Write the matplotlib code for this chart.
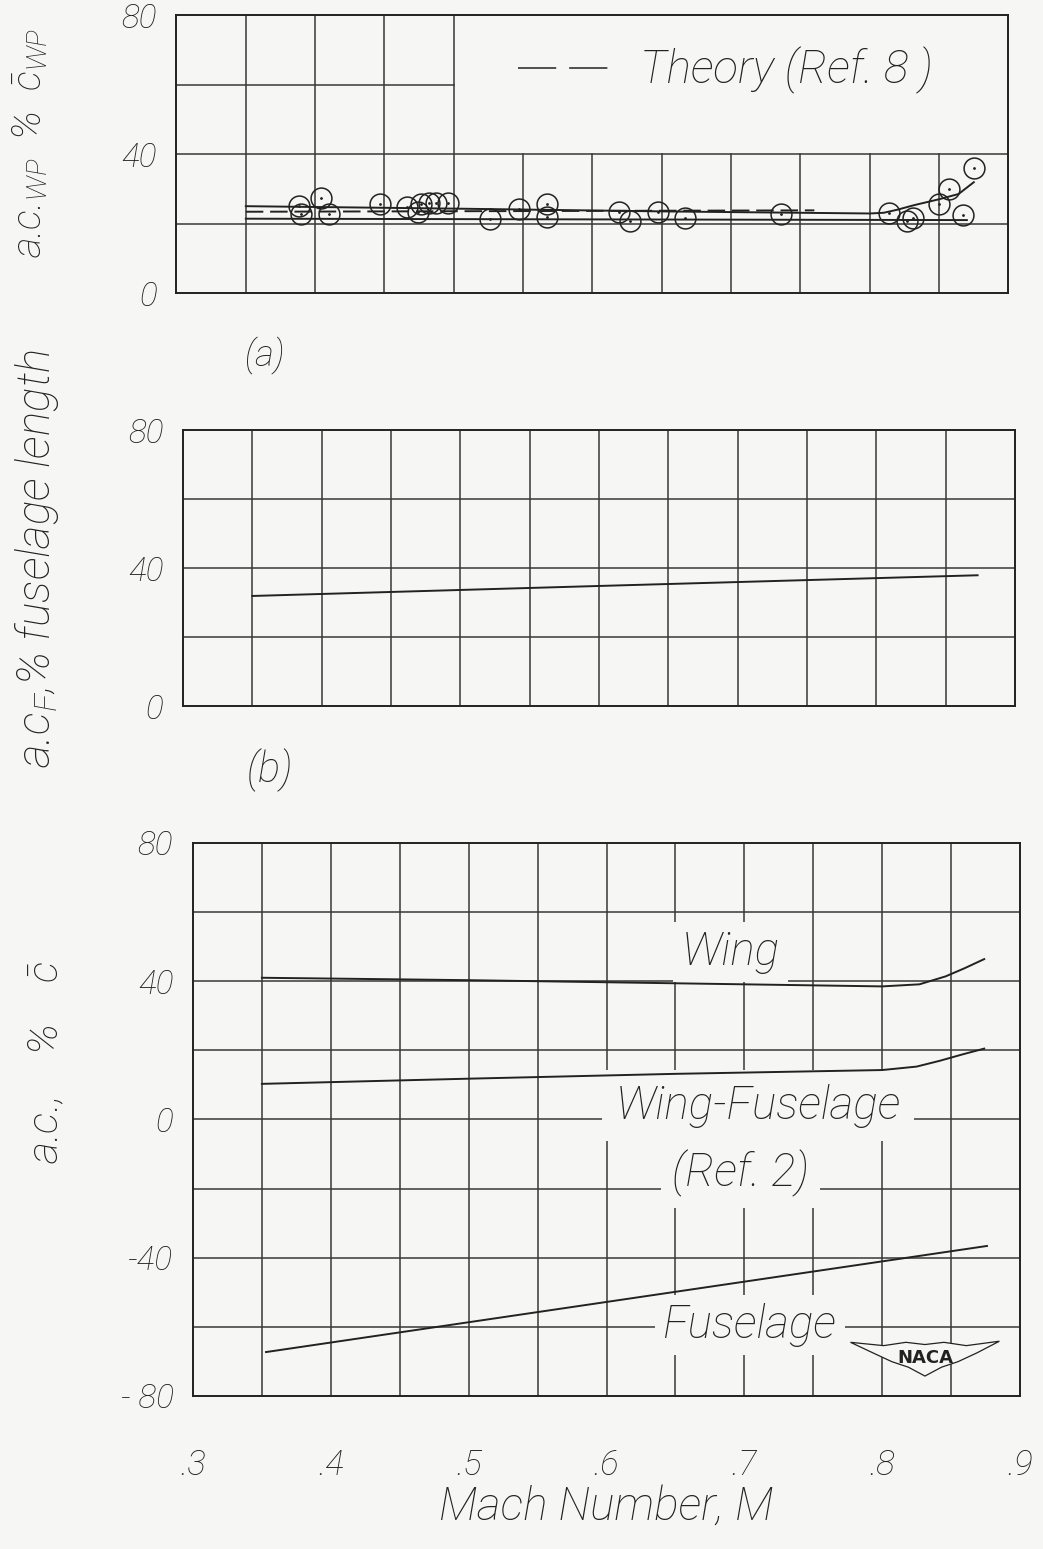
import numpy as np
import matplotlib
matplotlib.use("Agg")
import matplotlib.pyplot as plt
from matplotlib.lines import Line2D
from matplotlib.patches import Polygon

# ---- data ----
# (a) wing-panel aerodynamic centre, % mean chord of wing panel
mach_wp = [0.388, 0.390, 0.404, 0.410, 0.447, 0.466, 0.474, 0.476, 0.482, 0.487,
           0.496, 0.526, 0.547, 0.567, 0.567, 0.619, 0.627, 0.647, 0.667, 0.736,
           0.814, 0.827, 0.831, 0.850, 0.857, 0.867, 0.875]
ac_wp = [25.0, 22.8, 27.3, 22.7, 25.5, 24.7, 23.2, 25.6, 25.8, 26.0,
         25.8, 21.2, 24.3, 25.7, 21.8, 23.3, 20.6, 23.2, 21.7, 22.8,
         23.1, 20.8, 21.5, 25.6, 29.8, 22.6, 36.0]
fair_up_m = [0.35, 0.50, 0.65, 0.80, 0.81, 0.82, 0.832, 0.85, 0.864, 0.875]
fair_up = [25.0, 24.3, 23.5, 22.9, 23.1, 24.0, 25.3, 27.0, 28.5, 31.9]
fair_lo_m = [0.35, 0.60, 0.87]
fair_lo = [21.4, 21.2, 21.0]
theory_m = [0.35, 0.76]
theory = [23.4, 23.8]

# (b) fuselage a.c., % fuselage length
fus_len_m = [0.35, 0.60, 0.873]
fus_len = [31.9, 34.8, 37.9]

# (c) a.c., % mean chord
wing_m = [0.35, 0.50, 0.65, 0.80, 0.827, 0.846, 0.86, 0.874]
wing = [41.0, 40.3, 39.4, 38.5, 39.1, 41.4, 43.8, 46.4]
wf_m = [0.35, 0.50, 0.65, 0.80, 0.825, 0.842, 0.858, 0.874]
wf = [10.3, 11.8, 13.2, 14.3, 15.3, 17.0, 18.8, 20.5]
fus_m = [0.353, 0.60, 0.876]
fus = [-67.3, -52.8, -36.6]

mach_ticks = [0.3, 0.4, 0.5, 0.6, 0.7, 0.8, 0.9]
mach_labels = [".3", ".4", ".5", ".6", ".7", ".8", ".9"]

# ---- style ----
BG = "#f6f6f4"
INK = "#222222"
GRID = "#383838"
plt.rcParams["font.family"] = ["Roboto", "DejaVu Sans"]
plt.rcParams["font.style"] = "italic"
plt.rcParams["font.weight"] = "light"
plt.rcParams["axes.labelweight"] = "light"
plt.rcParams["mathtext.fontset"] = "custom"
plt.rcParams["mathtext.it"] = "Roboto:italic:light"
plt.rcParams["mathtext.rm"] = "Roboto:italic:light"
plt.rcParams["mathtext.default"] = "it"
plt.rcParams["text.color"] = INK
plt.rcParams["axes.labelcolor"] = INK

fig = plt.figure(figsize=(10.43, 15.49), dpi=100, facecolor=BG)
ax_a = fig.add_axes([0.1692, 0.8108, 0.7977, 0.1795])
ax_b = fig.add_axes([0.1755, 0.5442, 0.7977, 0.1782])
ax_c = fig.add_axes([0.1850, 0.0988, 0.7930, 0.3570])

glw = 1.1
for ax in (ax_a, ax_b, ax_c):
    ax.set_facecolor(BG)
    ax.set_xlim(0.3, 0.9)
    for s in ax.spines.values():
        s.set_color(INK)
        s.set_linewidth(1.4)
    ax.tick_params(length=0, labelsize=24, colors=INK, pad=14)
    ax.set_xticks(mach_ticks)
    ax.tick_params(axis="x", labelbottom=False)

cols = np.arange(0.35, 0.9, 0.05)

# panel (a) grid: upper-right block left blank for the key
ax_a.set_ylim(0, 80)
for m in cols:
    top = 1.0 if m <= 0.5 + 1e-9 else 0.5
    ax_a.axvline(m, ymax=top, color=GRID, lw=glw, zorder=1)
ax_a.axhline(20, color=GRID, lw=glw, zorder=1)
ax_a.axhline(40, color=GRID, lw=glw, zorder=1)
ax_a.axhline(60, xmax=1 / 3, color=GRID, lw=glw, zorder=1)
ax_a.set_yticks([0, 40, 80])
ax_a.set_yticklabels(["0", "40", "80"])

ax_a.plot(fair_up_m, fair_up, color=INK, lw=1.4, zorder=2)
ax_a.plot(fair_lo_m, fair_lo, color=INK, lw=1.4, zorder=2)
ax_a.plot(theory_m, theory, color=INK, lw=1.4, ls=(0, (9, 3.5)), zorder=2)
ax_a.plot(mach_wp, ac_wp, ls="none", marker="o", ms=15, mfc="none",
          mec=INK, mew=1.1, zorder=3)
ax_a.plot(mach_wp, ac_wp, ls="none", marker=".", ms=2, color=INK, zorder=3)

key = Line2D([], [], color=INK, lw=1.1, ls=(0, (25, 8.5)))
leg = ax_a.legend([key], ["Theory (Ref. 8 )"], loc="center left",
                  bbox_to_anchor=(0.411, 0.80), frameon=False, fontsize=33,
                  handlelength=1.95, handletextpad=0.7, borderpad=0,
                  borderaxespad=0)
ax_a.set_ylabel(r"a.c.$_{WP}$  %  $\bar{c}_{WP}$", fontsize=29)
ax_a.yaxis.set_label_coords(-0.152, 0.54)

# panel (b)
ax_b.set_ylim(0, 80)
for m in cols:
    ax_b.axvline(m, color=GRID, lw=glw, zorder=1)
for v in (20, 40, 60):
    ax_b.axhline(v, color=GRID, lw=glw, zorder=1)
ax_b.set_yticks([0, 40, 80])
ax_b.set_yticklabels(["0", "40", "80"])
ax_b.plot(fus_len_m, fus_len, color=INK, lw=1.4, zorder=2)
ax_b.set_ylabel(r"a.c$_F$,% fuselage length", fontsize=33)
ax_b.yaxis.set_label_coords(-0.147, 0.536)

# panel (c)
ax_c.set_ylim(-80, 80)
for m in cols:
    ax_c.axvline(m, color=GRID, lw=glw, zorder=1)
for v in range(-60, 80, 20):
    ax_c.axhline(v, color=GRID, lw=glw, zorder=1)
ax_c.set_yticks([80, 40, 0, -40, -80])
ax_c.set_yticklabels(["80", "40", "0", "-40", "- 80"])
ax_c.plot(wing_m, wing, color=INK, lw=1.4, zorder=5)
ax_c.plot(wf_m, wf, color=INK, lw=1.4, zorder=5)
ax_c.plot(fus_m, fus, color=INK, lw=1.4, zorder=5)
ax_c.set_ylabel(r"a.c.,    %    $\bar{c}$", fontsize=31)
ax_c.yaxis.set_label_coords(-0.152, 0.604)

ax_c.tick_params(axis="x", labelbottom=True, labelsize=25, pad=38)
ax_c.set_xticklabels(mach_labels)
ax_c.set_xlabel("Mach Number, M", fontsize=33, labelpad=2)

box = dict(facecolor=BG, edgecolor="none", pad=6)
ax_c.text(0.69, 48.5, "Wing", fontsize=33, ha="center", va="center",
          bbox=box, zorder=4)
ax_c.text(0.71, 4.0, "Wing-Fuselage", fontsize=33, ha="center", va="center",
          bbox=dict(facecolor=BG, edgecolor="none", pad=10), zorder=4)
ax_c.text(0.697, -15.5, "(Ref. 2)", fontsize=33, ha="center", va="center",
          bbox=dict(facecolor=BG, edgecolor="none", pad=8), zorder=4)
ax_c.text(0.704, -59.5, "Fuselage", fontsize=33, ha="center", va="center",
          bbox=box, zorder=4)

# NACA wings emblem
wing_shape = [(0.795, 0.097), (0.835, 0.091), (0.862, 0.097), (0.885, 0.093),
              (0.908, 0.097), (0.935, 0.091), (0.975, 0.099), (0.948, 0.078),
              (0.925, 0.062), (0.905, 0.052), (0.885, 0.036), (0.865, 0.052),
              (0.845, 0.062), (0.822, 0.078)]
ax_c.add_patch(Polygon(wing_shape, closed=True, transform=ax_c.transAxes,
                       facecolor=BG, edgecolor=INK, lw=0.9, zorder=6))
ax_c.text(0.885, 0.068, "NACA", transform=ax_c.transAxes, fontsize=13,
          ha="center", va="center", style="normal", weight="bold",
          family="DejaVu Sans", color="#222222", zorder=7)

fig.text(265 / 1043, 1 - 355 / 1549, "(a)", fontsize=26, ha="center", va="center")
fig.text(270 / 1043, 1 - 770 / 1549, "(b)", fontsize=30, ha="center", va="center")

fig.savefig("out.png", dpi=100, facecolor=BG)
